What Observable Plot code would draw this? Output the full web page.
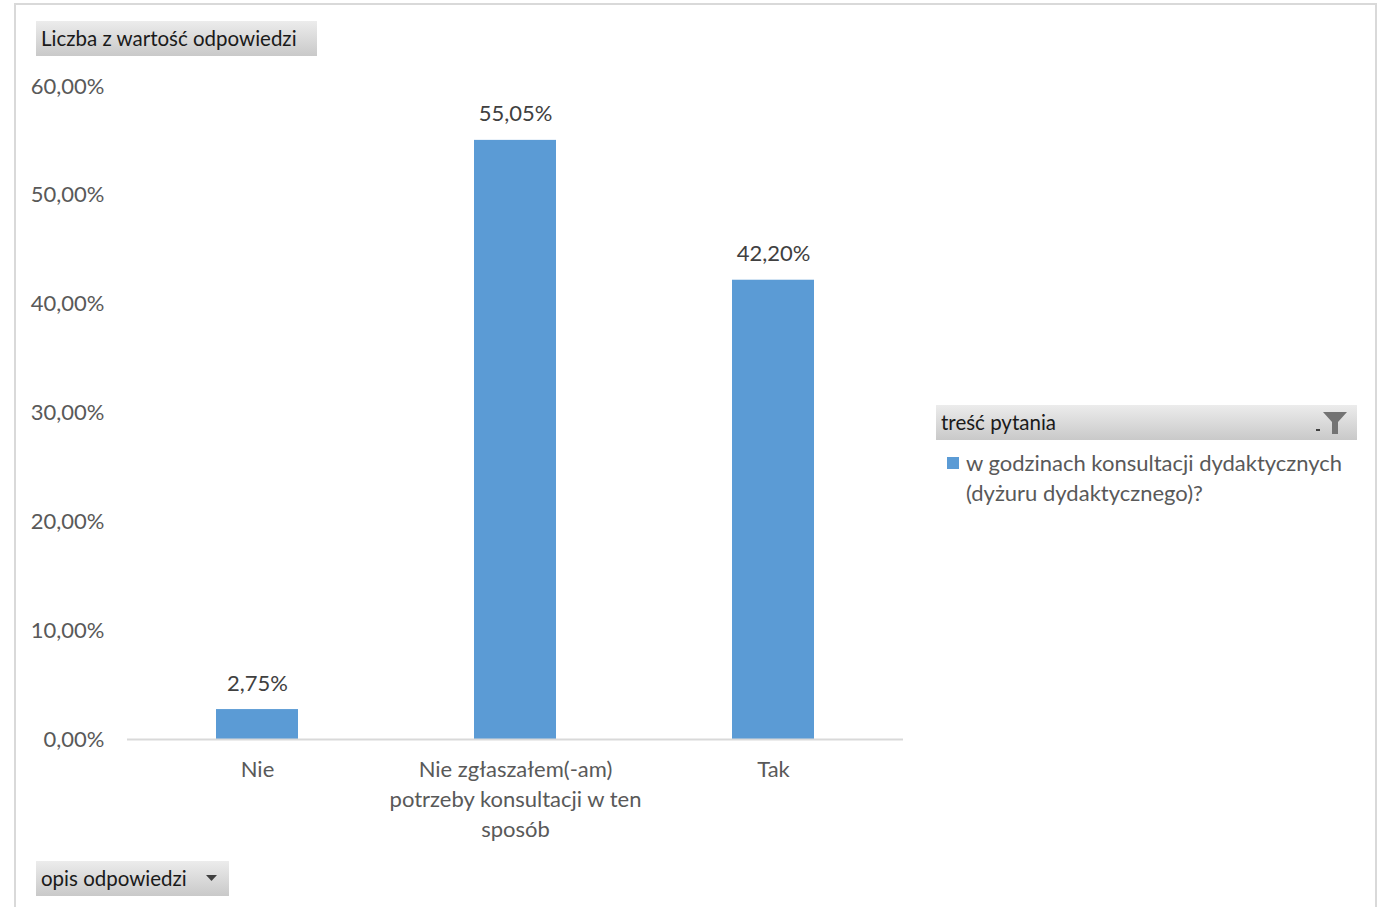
<!DOCTYPE html>
<html>
<head>
<meta charset="utf-8">
<script src="https://cdn.jsdelivr.net/npm/d3@7"></script>
<script src="https://cdn.jsdelivr.net/npm/@observablehq/plot@0.6"></script>
<style>
  html, body { margin: 0; padding: 0; background: #fff; overflow: hidden; }
  body { width: 1379px; height: 907px; position: relative; font-family: Lato, "Noto Sans", sans-serif; }
  #frame { position: absolute; left: 14px; top: 3px; width: 1363px; height: 920px; border: 2px solid #d9d9d9; box-sizing: border-box; }
  .btn { position: absolute; height: 35px; background: linear-gradient(#ececec, #c9c9c9); color: #1a1a1a; font-size: 20.5px; line-height: 35px; padding-left: 5px; box-sizing: border-box; white-space: nowrap; }
  #chart { position: absolute; left: 0; top: 0; }
  #legtext { position: absolute; left: 966px; top: 448px; color: #595959; font-size: 22px; line-height: 30px; white-space: nowrap; }
  #legsw { position: absolute; left: 947px; top: 457px; width: 12px; height: 12px; background: #5B9BD5; }
</style>
</head>
<body>
<div id="frame"></div>
<div id="chart"></div>
<div class="btn" style="left:36px; top:21px; width:281px;">Liczba z wartość odpowiedzi</div>
<div class="btn" style="left:36px; top:861px; width:193px;">opis odpowiedzi
  <svg style="position:absolute; left:170px; top:14px;" width="12" height="8"><path d="M0,0 L11,0 L5.5,6 Z" fill="#404040"/></svg>
</div>
<div class="btn" style="left:936px; top:405px; width:421px;">treść pytania
  <svg style="position:absolute; left:378px; top:5px;" width="36" height="26"><rect x="2" y="19" width="4" height="2" fill="#404040"/><path d="M9,2 L33,2 L24,12 L24,24 L18,24 L18,12 Z" fill="#737373"/></svg>
</div>
<div id="legsw"></div>
<div id="legtext">w godzinach konsultacji dydaktycznych<br>(dyżuru dydaktycznego)?</div>
<script>
const categories = ["Nie", "Nie zgłaszałem(-am)\npotrzeby konsultacji w ten\nsposób", "Tak"];
const values = [0.0275, 0.5505, 0.4220];
const labels = ["2,75%", "55,05%", "42,20%"];
const yTicks = [0, 0.1, 0.2, 0.3, 0.4, 0.5, 0.6];

const data = categories.map((c, i) => ({category: c, value: values[i], label: labels[i]}));
const fmt = d => (d * 100).toFixed(2).replace(".", ",") + "%";

const chart = Plot.plot({
  width: 920,
  height: 850,
  marginLeft: 127,
  marginRight: 17,
  marginTop: 86,
  marginBottom: 111,
  style: {fontFamily: "Lato, 'Noto Sans', sans-serif", fontSize: "22px", color: "#595959", background: "transparent"},
  x: {domain: categories, paddingInner: 0.683, paddingOuter: 0.3415, label: null},
  y: {domain: [0, 0.6], label: null},
  marks: [
    Plot.barY(data, {x: "category", y: "value", fill: "#5B9BD5"}),
    Plot.ruleY([0], {stroke: "#d9d9d9", strokeWidth: 2}),
    Plot.text(data, {x: "category", y: "value", text: "label", dy: -26, fill: "#404040", fontSize: 22}),
    Plot.axisY({ticks: yTicks, tickFormat: fmt, tickSize: 0, tickPadding: 23, fill: "#595959", fontSize: 22, label: null}),
    Plot.axisX({tickSize: 0, tickPadding: 16, lineHeight: 1.36, fill: "#595959", fontSize: 22, label: null})
  ]
});
document.getElementById("chart").appendChild(chart);
</script>
</body>
</html>
